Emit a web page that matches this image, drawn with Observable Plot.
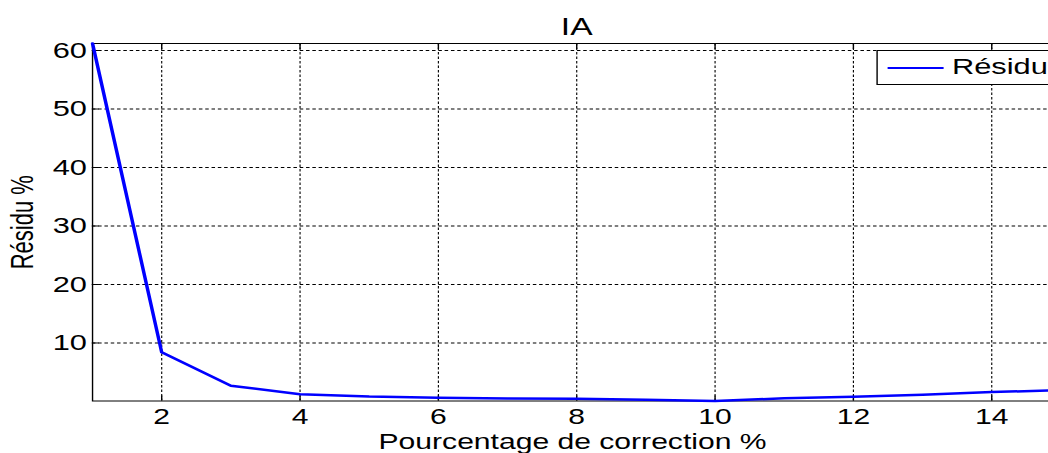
<!DOCTYPE html>
<html><head><meta charset="utf-8">
<script src="https://cdn.jsdelivr.net/npm/d3@7"></script>
<script src="https://cdn.jsdelivr.net/npm/@observablehq/plot@0.6"></script>
<style>
html,body{margin:0;padding:0;overflow:hidden;background:#fff;width:1048px;height:453px}
#wrap{position:relative;width:780px;height:453px;transform:scaleX(1.4);transform-origin:0 0;font-family:"Liberation Sans",Arial,sans-serif}
#legend{position:absolute;left:626px;top:50px;width:125px;height:35px;border:1px solid #000;background:#fff;box-sizing:border-box}
#legend .sw{position:absolute;left:7px;top:16px;width:40px;height:0;border-top:2.5px solid #0000ff}
#legend .lb{position:absolute;left:53px;top:3px;font-size:22px;line-height:26px;color:#000;white-space:nowrap}
</style></head><body><div id="wrap"></div>
<script>
const correction = [1, 2, 3, 4, 5, 6, 7, 8, 9, 10, 11, 12, 13, 14, 15];
const residu = [61.2, 8.4, 2.7, 1.25, 0.85, 0.65, 0.5, 0.45, 0.3, 0.08, 0.55, 0.8, 1.15, 1.6, 1.95];
const xTicks = [2, 4, 6, 8, 10, 12, 14];
const yTicks = [10, 20, 30, 40, 50, 60];
const titleText = "IA";
const xLabel = "Pourcentage de correction %";
const yLabel = "Résidu %";
const seriesName = "Résidu";

const data = correction.map((x, i) => ({x, y: residu[i]}));
const font = '"Liberation Sans", Arial, sans-serif';
const gridStyle = {stroke: "black", strokeOpacity: 1, strokeDasharray: "2.5,2", strokeWidth: 0.8};

const chart = Plot.plot({
  width: 780, height: 453,
  marginLeft: 65.6, marginRight: 22.7, marginTop: 43, marginBottom: 52.5,
  style: {fontFamily: font, fontSize: "22px", color: "black", background: "white"},
  x: {domain: d3.extent(correction)},
  y: {domain: d3.extent(residu)},
  marks: [
    Plot.gridX(xTicks, gridStyle),
    Plot.gridY(yTicks, gridStyle),
    Plot.frame({stroke: "black", strokeWidth: 1}),
    Plot.axisX(xTicks, {tickSize: -5, tickFormat: () => "", label: null}),
    Plot.axisX(xTicks, {anchor: "top", tickSize: -5, tickFormat: () => "", label: null}),
    Plot.axisY(yTicks, {tickSize: -5, tickFormat: () => "", label: null}),
    Plot.axisY(yTicks, {anchor: "right", tickSize: -5, tickFormat: () => "", label: null}),
    Plot.axisX(xTicks, {tickSize: 0, tickPadding: 8.2, label: null, fontSize: 21.5}),
    Plot.axisY(yTicks, {tickSize: 0, tickPadding: 4, label: null, fontSize: 22}),
    Plot.line(data, {x: "x", y: "y", stroke: "#0000ff", strokeWidth: 2.5}),
    Plot.text([titleText], {text: d => d, frameAnchor: "top", dy: -9, lineAnchor: "bottom", fontSize: 24}),
    Plot.text([xLabel], {text: d => d, frameAnchor: "bottom", dy: 47.7, dx: -3, lineAnchor: "bottom", fontSize: 21.5}),
    Plot.text([yLabel], {text: d => d, frameAnchor: "left", textAnchor: "middle", rotate: -90, dx: -49.6, lineAnchor: "middle", fontSize: 22})
  ]
});
const wrap = document.getElementById("wrap");
wrap.appendChild(chart);
const legend = document.createElement("div");
legend.id = "legend";
legend.innerHTML = '<div class="sw"></div><div class="lb"></div>';
legend.querySelector(".lb").textContent = seriesName;
wrap.appendChild(legend);
</script></body></html>
